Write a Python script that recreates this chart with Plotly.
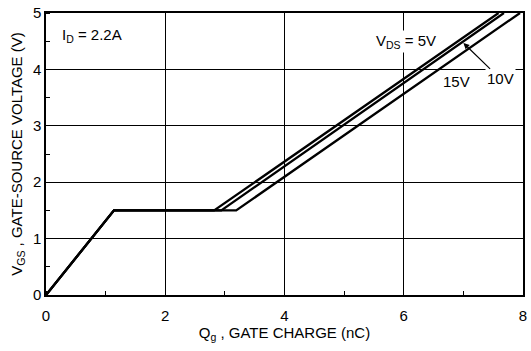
import plotly.graph_objects as go

# Data
series_names = ["5V", "10V", "15V"]
qg_5 = [0, 1.14, 2.82, 7.59]
qg_10 = [0, 1.14, 2.94, 7.68]
qg_15 = [0, 1.14, 3.19, 7.95]
vgs = [0, 1.5, 1.5, 5.0]
x_ticks = [0, 2, 4, 6, 8]
y_ticks = [0, 1, 2, 3, 4, 5]

FONT = "Arial, Liberation Sans, sans-serif"

fig = go.Figure()
for name, qg in zip(series_names, [qg_5, qg_10, qg_15]):
    fig.add_trace(go.Scatter(x=qg, y=vgs, mode="lines", name=name,
                             line=dict(color="black", width=2.3),
                             showlegend=False, hoverinfo="skip"))

fig.update_layout(
    width=531, height=351,
    margin=dict(l=46, r=4, t=10, b=56),
    paper_bgcolor="white", plot_bgcolor="white",
    font=dict(family=FONT, size=15, color="black"),
    xaxis=dict(range=[0, 8], tickvals=x_ticks, ticks="", showgrid=True,
               gridcolor="black", gridwidth=1, showline=True, linecolor="black",
               linewidth=1.5, mirror=True, zeroline=False,
               tickfont=dict(size=15), ticklabelstandoff=6,
               minor=dict(dtick=1, ticks="inside", ticklen=4, tickcolor="black",
                          showgrid=False),
               title=dict(text="Q<sub>g</sub> , GATE CHARGE (nC)",
                          font=dict(size=15), standoff=2)),
    yaxis=dict(range=[0, 5], tickvals=y_ticks, ticks="", showgrid=True,
               gridcolor="black", gridwidth=1, showline=True, linecolor="black",
               linewidth=1.5, mirror=True, zeroline=False,
               tickfont=dict(size=15),
               minor=dict(dtick=0.5, ticks="inside", ticklen=4, tickcolor="black",
                          showgrid=False),
               title=dict(text="V<sub>GS</sub> , GATE-SOURCE VOLTAGE (V)",
                          font=dict(size=15), standoff=7)),
)

fig.add_annotation(x=0.24, y=4.61, xref="x", yref="y", text="I<sub>D</sub> = 2.2A",
                   showarrow=False, xanchor="left", font=dict(size=15),
                   bgcolor="white")
fig.add_annotation(x=5.5, y=4.5, xref="x", yref="y", text="V<sub>DS</sub> = 5V",
                   showarrow=False, xanchor="left", font=dict(size=15),
                   bgcolor="white")
fig.add_annotation(x=6.63, y=3.78, xref="x", yref="y", text="15V",
                   showarrow=False, xanchor="left", font=dict(size=15))
fig.add_annotation(x=7.0, y=4.47, xref="x", yref="y", text="10V",
                   showarrow=True, arrowhead=2, arrowsize=1, arrowwidth=1.2,
                   arrowcolor="black", ax=37, ay=36, font=dict(size=15),
                   bgcolor="white")

fig.write_html("out.html")
